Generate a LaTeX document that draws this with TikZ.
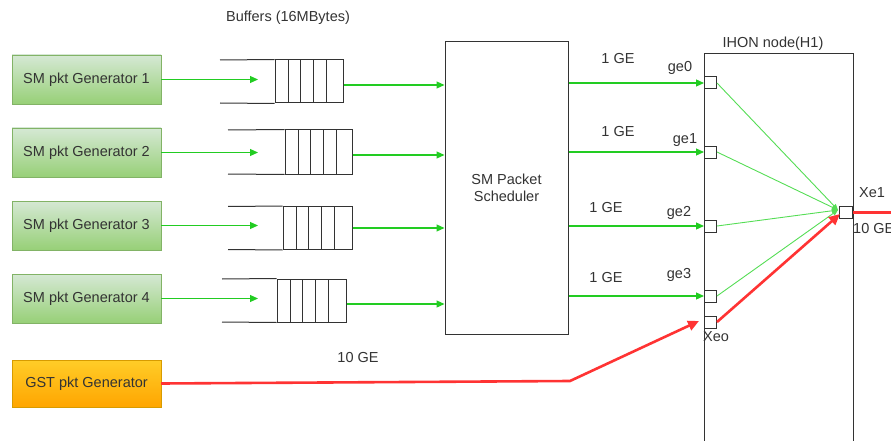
\documentclass[tikz,border=0pt]{standalone}
\usepackage{fontspec}
\setmainfont{Liberation Sans}
\usetikzlibrary{arrows.meta,calc}
\definecolor{txt}{HTML}{333333}
\definecolor{gbord}{HTML}{82B366}
\definecolor{gtop}{HTML}{D5E8D4}
\definecolor{gbot}{HTML}{97D077}
\definecolor{otop}{HTML}{FFCD28}
\definecolor{obot}{HTML}{FFA500}
\definecolor{obord}{HTML}{D79B00}
\definecolor{arrg}{HTML}{22CC22}
\definecolor{thing}{HTML}{55DD55}
\definecolor{arrr}{HTML}{FF3333}
\definecolor{edge}{HTML}{333333}
\begin{document}
\begin{tikzpicture}[x=1pt,y=-1pt,
  lbl/.style={font=\fontsize{14.5}{17}\selectfont, text=txt, inner sep=0pt},
  genbox/.style={draw=gbord, top color=gtop, bottom color=gbot, minimum width=149pt, minimum height=49pt, inner sep=0pt, font=\fontsize{14.5}{17}\selectfont, text=txt},
  gstbox/.style={draw=obord, top color=otop, bottom color=obot, minimum width=149pt, minimum height=47pt, inner sep=0pt, font=\fontsize{14.5}{17}\selectfont, text=txt},
  bufcells/.style={draw=edge, line width=1pt, inner sep=0pt, minimum height=43pt,
    path picture={\foreach \d in {13,25,38,51}{\draw[edge, line width=1pt] ([xshift=\d pt]path picture bounding box.north west) -- ([xshift=\d pt]path picture bounding box.south west);}}},
  bigbox/.style={draw=edge, line width=1pt, inner sep=0pt, fill=white},
  portbox/.style={draw=edge, line width=1pt, fill=white, minimum width=12pt, minimum height=12pt, inner sep=0pt},
  garr/.style={draw=arrg, line width=1.2pt, -{Triangle[length=8pt,width=7pt]}},
  tarr/.style={draw=thing, line width=0.9pt, -{Triangle[length=6pt,width=5pt]}},
  rarr/.style={draw=arrr, line width=2.6pt, -{Triangle[length=11pt,width=10pt]}},
  rline/.style={draw=arrr, line width=2.6pt}
]
\useasboundingbox (0,0) rectangle (891,441);

% generators
\node[genbox] (g1) at (86.5,79.5) {SM pkt Generator 1};
\node[genbox] (g2) at (86.5,152.5) {SM pkt Generator 2};
\node[genbox] (g3) at (86.5,225.5) {SM pkt Generator 3};
\node[genbox] (g4) at (86.5,298.5) {SM pkt Generator 4};
\node[gstbox] (gst) at (86.5,383.5) {GST pkt Generator};

% buffers
\node[lbl] (buflbl) at (288,18) {Buffers (16MBytes)};
\node[bufcells, minimum width=68pt] (b1) at (309,81.5) {};
\node[bufcells, minimum width=67pt, minimum height=44pt] (b2) at (318.5,152) {};
\node[bufcells, minimum width=69pt] (b3) at (317.5,228) {};
\node[bufcells, minimum width=69pt] (b4) at (311.5,300.5) {};
\coordinate (b1l) at (220,60);  \coordinate (b1lb) at (220,103);
\coordinate (b2l) at (228,130); \coordinate (b2lb) at (228,174);
\coordinate (b3l) at (228,206.5); \coordinate (b3lb) at (228,249.5);
\coordinate (b4l) at (222,279); \coordinate (b4lb) at (222,322);
\foreach \b in {b1,b2,b3,b4}{
  \draw[edge, line width=1pt] (\b l) -- (\b.north west);
  \draw[edge, line width=1pt] (\b lb) -- (\b.south west);
}

% generator -> buffer arrows
\foreach \g/\b in {g1/b1,g2/b2,g3/b3,g4/b4}{
  \coordinate (\g t) at (258,0 |- \g.east);
  \draw[garr] (\g.east) -- (\g t);
}

% scheduler
\node[bigbox, minimum width=123pt, minimum height=292pt, align=center, font=\fontsize{14.5}{17}\selectfont, text=txt] (sch) at (506.5,188) {SM Packet\\Scheduler};

% buffer -> scheduler
\draw[garr] (b1.east |- 0,85) -- (sch.west |- 0,85);
\draw[garr] (b2.east |- 0,155) -- (sch.west |- 0,155);
\draw[garr] (b3.east) -- (sch.west |- b3.east);
\draw[garr] (b4.east |- 0,304) -- (sch.west |- 0,304);

% IHON node
\node[lbl] (ihonlbl) at (773,44) {IHON node(H1)};
\coordinate (ihtl) at (704,54);
\coordinate (ihtr) at (853,54);
\draw[edge, line width=1pt] (704,448) -- (ihtl) -- (ihtr) -- (853,448);

% ports
\node[portbox, anchor=west] (ge0) at (704,83) {};
\node[portbox, anchor=west] (ge1) at (704,152) {};
\node[portbox, anchor=west] (ge2) at (704,226) {};
\node[portbox, anchor=west] (ge3) at (704,296) {};
\node[portbox, anchor=west] (xeo) at (704,322) {};
\node[portbox, anchor=east, minimum width=13pt] (xe1) at (853,212.5) {};

\node[lbl] (l0) at (680,68) {ge0};
\node[lbl] (l1) at (685,140) {ge1};
\node[lbl] (l2) at (679,213) {ge2};
\node[lbl] (l3) at (679,275) {ge3};
\node[lbl] (lxo) at (716,337) {Xeo};
\node[lbl] (lx1) at (872,193) {Xe1};
\node[lbl, anchor=west] (l10a) at (853,229) {10 GE};

% scheduler -> ports
\node[lbl] (s0) at (618,59) {1 GE};
\node[lbl] (s1) at (618,132) {1 GE};
\node[lbl] (s2) at (606,208) {1 GE};
\node[lbl] (s3) at (606,278) {1 GE};
\foreach \p in {ge0,ge1,ge2,ge3}{
  \draw[garr] (sch.east |- \p.west) -- (\p.west);
}

% ports -> Xe1
\coordinate (xin) at (838,210);
\coordinate (xinr) at (840,214);
\foreach \p in {ge0,ge1,ge2,ge3}{
  \draw[tarr] (\p.east) -- (xin);
}
\draw[rarr] (xeo.east) -- (xinr);
\coordinate (xout) at (895,212.5);
\draw[rline] (xe1.east) -- (xout);

% GST -> Xeo
\node[lbl] (l10b) at (358,358) {10 GE};
\coordinate (kink) at (570,381);
\coordinate (xeot) at (699,321);
\draw[rarr] (gst.east) -- (kink) -- (xeot);
\end{tikzpicture}
\end{document}
